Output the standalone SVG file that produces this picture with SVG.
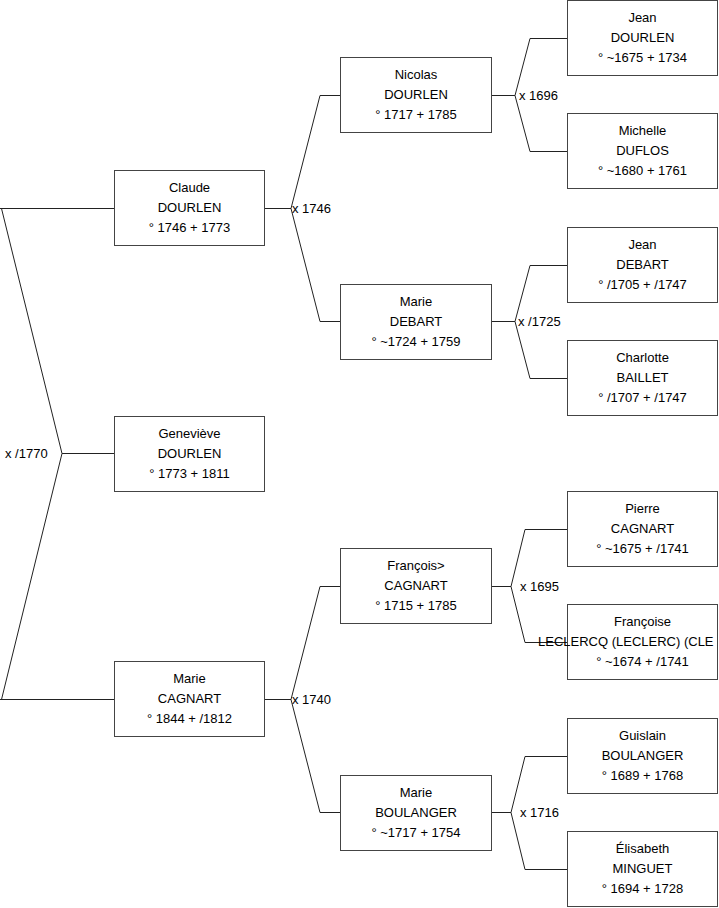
<svg xmlns="http://www.w3.org/2000/svg" width="719" height="908" viewBox="0 0 719 908">
<style>
.box{fill:#fff;stroke:#444;stroke-width:1}
.t{font-family:"Liberation Sans",Arial,sans-serif;font-size:13px;fill:#000;text-anchor:middle}
.lbl{font-family:"Liberation Sans",Arial,sans-serif;font-size:13px;fill:#000}
.c{fill:none;stroke:#222;stroke-width:1}
</style>
<rect width="719" height="908" fill="#fff"/>
<g id="connectors">
<path class="c" d="M0,208.5 H114 M1.5,208.5 L62,453.5 L1.5,699.5 M62,453.5 H114 M0,699.5 H114"/>
<path class="c" d="M265,208.5 H291 M320,95.5 L291,208.5 L320,321.5 M320,95.5 H340 M320,321.5 H340"/>
<path class="c" d="M265,699.5 H291 M320,586.5 L291,699.5 L320,812.5 M320,586.5 H340 M320,812.5 H340"/>
<path class="c" d="M492,95.5 H515 M530,38.5 L515,95.5 L530,151.5 M530,38.5 H567 M530,151.5 H567"/>
<path class="c" d="M492,321.5 H515 M530,265.5 L515,321.5 L530,378.5 M530,265.5 H567 M530,378.5 H567"/>
<path class="c" d="M492,586.5 H511 M525,529.5 L511,586.5 L525,642.5 M525,529.5 H567 M525,642.5 H567"/>
<path class="c" d="M492,812.5 H511 M525,756.5 L511,812.5 L525,869.5 M525,756.5 H567 M525,869.5 H567"/>
<text class="lbl" x="5" y="458">x /1770</text>
<text class="lbl" x="292" y="213">x 1746</text>
<text class="lbl" x="292" y="704">x 1740</text>
<text class="lbl" x="519" y="100">x 1696</text>
<text class="lbl" x="518" y="326">x /1725</text>
<text class="lbl" x="520" y="591">x 1695</text>
<text class="lbl" x="520" y="817">x 1716</text>
</g>
<g id="claude"><rect class="box" x="114.5" y="170.5" width="150" height="75"/><text class="t" x="189.5" y="192">Claude</text><text class="t" x="189.5" y="212">DOURLEN</text><text class="t" x="189.5" y="232">° 1746 + 1773</text></g>
<g id="genevieve"><rect class="box" x="114.5" y="416.5" width="150" height="75"/><text class="t" x="189.5" y="438">Geneviève</text><text class="t" x="189.5" y="458">DOURLEN</text><text class="t" x="189.5" y="478">° 1773 + 1811</text></g>
<g id="marie-cagnart"><rect class="box" x="114.5" y="661.5" width="150" height="75"/><text class="t" x="189.5" y="683">Marie</text><text class="t" x="189.5" y="703">CAGNART</text><text class="t" x="189.5" y="723">° 1844 + /1812</text></g>
<g id="nicolas"><rect class="box" x="340.5" y="57.5" width="151" height="75"/><text class="t" x="416" y="79">Nicolas</text><text class="t" x="416" y="99">DOURLEN</text><text class="t" x="416" y="119">° 1717 + 1785</text></g>
<g id="marie-debart"><rect class="box" x="340.5" y="284.5" width="151" height="75"/><text class="t" x="416" y="306">Marie</text><text class="t" x="416" y="326">DEBART</text><text class="t" x="416" y="346">° ~1724 + 1759</text></g>
<g id="francois"><rect class="box" x="340.5" y="548.5" width="151" height="75"/><text class="t" x="416" y="570">François&gt;</text><text class="t" x="416" y="590">CAGNART</text><text class="t" x="416" y="610">° 1715 + 1785</text></g>
<g id="marie-boulanger"><rect class="box" x="340.5" y="775.5" width="151" height="75"/><text class="t" x="416" y="797">Marie</text><text class="t" x="416" y="817">BOULANGER</text><text class="t" x="416" y="837">° ~1717 + 1754</text></g>
<g id="jean-dourlen"><rect class="box" x="567.5" y="0.5" width="150" height="75"/><text class="t" x="642.5" y="22">Jean</text><text class="t" x="642.5" y="42">DOURLEN</text><text class="t" x="642.5" y="62">° ~1675 + 1734</text></g>
<g id="michelle"><rect class="box" x="567.5" y="113.5" width="150" height="75"/><text class="t" x="642.5" y="135">Michelle</text><text class="t" x="642.5" y="155">DUFLOS</text><text class="t" x="642.5" y="175">° ~1680 + 1761</text></g>
<g id="jean-debart"><rect class="box" x="567.5" y="227.5" width="150" height="75"/><text class="t" x="642.5" y="249">Jean</text><text class="t" x="642.5" y="269">DEBART</text><text class="t" x="642.5" y="289">° /1705 + /1747</text></g>
<g id="charlotte"><rect class="box" x="567.5" y="340.5" width="150" height="75"/><text class="t" x="642.5" y="362">Charlotte</text><text class="t" x="642.5" y="382">BAILLET</text><text class="t" x="642.5" y="402">° /1707 + /1747</text></g>
<g id="pierre"><rect class="box" x="567.5" y="491.5" width="150" height="75"/><text class="t" x="642.5" y="513">Pierre</text><text class="t" x="642.5" y="533">CAGNART</text><text class="t" x="642.5" y="553">° ~1675 + /1741</text></g>
<g id="francoise"><rect class="box" x="567.5" y="604.5" width="150" height="75"/><text class="t" x="642.5" y="626">Françoise</text><text class="lbl" x="538" y="646">LECLERCQ (LECLERC) (CLE</text><text class="t" x="642.5" y="666">° ~1674 + /1741</text></g>
<g id="guislain"><rect class="box" x="567.5" y="718.5" width="150" height="75"/><text class="t" x="642.5" y="740">Guislain</text><text class="t" x="642.5" y="760">BOULANGER</text><text class="t" x="642.5" y="780">° 1689 + 1768</text></g>
<g id="elisabeth"><rect class="box" x="567.5" y="831.5" width="150" height="75"/><text class="t" x="642.5" y="853">Élisabeth</text><text class="t" x="642.5" y="873">MINGUET</text><text class="t" x="642.5" y="893">° 1694 + 1728</text></g>
</svg>
